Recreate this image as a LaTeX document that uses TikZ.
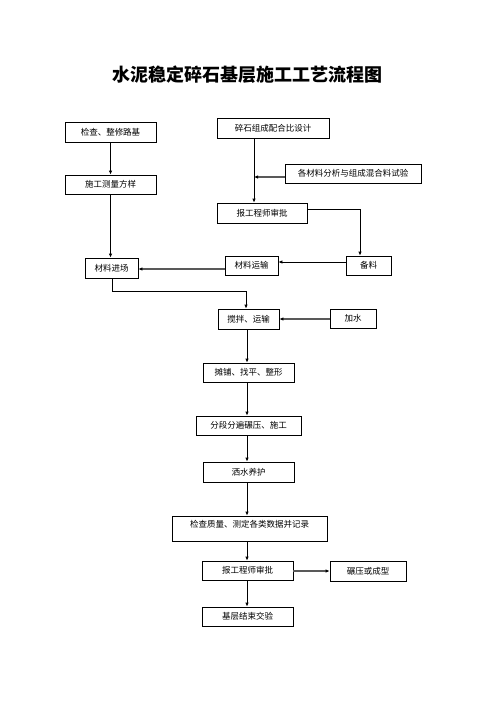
\documentclass[tikz,border=0pt]{standalone}
\usepackage{fontspec}
\newfontfamily\cjk{Noto Sans CJK SC}
\usetikzlibrary{arrows.meta}
\begin{document}
\begin{tikzpicture}[x=1pt,y=-1pt,
  box/.style={draw=black,line width=0.8pt,inner sep=0pt,font=\cjk\fontsize{8.5}{10}\selectfont,fill=white},
  conn/.style={draw=black,line width=0.8pt,-{Latex[length=4pt,width=3.5pt]}},
  gconn/.style={draw=black!65,line width=1.3pt,-{Latex[length=4pt,width=3.5pt,black]}}]
\useasboundingbox[fill=white] (0,0) rectangle (496,702);
\node[font=\cjk\bfseries\fontsize{18}{20}\selectfont] (title) at (247.5,74.5) {水泥稳定碎石基层施工工艺流程图};
\node[box,minimum width=91,minimum height=20] (n1) at (110.5,132) {检查、整修路基};
\node[box,minimum width=91,minimum height=19] (n2) at (110.5,184.5) {施工测量方样};
\node[box,minimum width=53,minimum height=20] (n3) at (111.5,268) {材料进场};
\node[box,minimum width=112,minimum height=20] (n4) at (273,128) {碎石组成配合比设计};
\node[box,minimum width=136,minimum height=19] (n5) at (353,173.5) {各材料分析与组成混合料试验};
\node[box,minimum width=90,minimum height=20] (n6) at (262,213) {报工程师审批};
\node[box,minimum width=45,minimum height=19] (n7) at (368.5,265.5) {备料};
\node[box,minimum width=53,minimum height=19] (n8) at (251.5,265.5) {材料运输};
\node[box,minimum width=61,minimum height=20] (n9) at (248.5,319) {搅拌、运输};
\node[box,minimum width=46,minimum height=19] (n10) at (353,318.5) {加水};
\node[box,minimum width=91,minimum height=19] (n11) at (248.5,372.5) {摊铺、找平、整形};
\node[box,minimum width=105,minimum height=19] (n12) at (248.5,425.5) {分段分遍碾压、施工};
\node[box,minimum width=91,minimum height=20] (n13) at (248.5,472) {洒水养护};
\node[box,minimum width=155,minimum height=25,
  label={[font=\cjk\fontsize{8.5}{10}\selectfont,yshift=4pt]center:检查质量、测定各类数据并记录}] (n14) at (249.5,528.5) {};
\node[box,minimum width=91,minimum height=19] (n15) at (247.5,570.5) {报工程师审批};
\node[box,minimum width=76,minimum height=20] (n16) at (368,571) {碾压或成型};
\node[box,minimum width=91,minimum height=19] (n17) at (247.5,616.5) {基层结束交验};
% coordinates
\coordinate (c4) at (254,0);
\coordinate (c5) at (254,177);
\coordinate (c67) at (360,209);
\coordinate (c39a) at (112,291);
\coordinate (c39b) at (246,291);
\coordinate (cv) at (247,0);
% connectors
\draw[conn] (n1.south) -- (n2.north);
\draw[conn] (n2.south) -- (n2.south |- n3.north);
\draw[conn] (n4.south -| c4) -- (n6.north -| c4);
\draw[gconn] (n5.west |- c5) -- (c5);
\draw[conn] (n6.east |- c67) -- (c67) -- (c67 |- n7.north);
\draw[conn] (n7.west |- 0,262) -- (n8.east |- 0,262);
\draw[gconn] (n8.west |- 0,269) -- (n3.east |- 0,269);
\draw[conn] (n3.south -| c39a) -- (c39a) -- (c39b) -- (c39b |- n9.north);
\draw[gconn] (n10.west |- 0,319) -- (n9.east |- 0,319);
\draw[conn] (n9.south -| cv) -- (n11.north -| cv);
\draw[conn] (n11.south -| cv) -- (n12.north -| cv);
\draw[conn] (n12.south -| cv) -- (n13.north -| cv);
\draw[conn] (n13.south -| cv) -- (n14.north -| cv);
\draw[conn] (n14.south -| cv) -- (n15.north -| cv);
\draw[gconn] (n15.east |- 0,571) -- (n16.west |- 0,571);
\draw[conn] (n15.south -| cv) -- (n17.north -| cv);
\end{tikzpicture}
\end{document}
